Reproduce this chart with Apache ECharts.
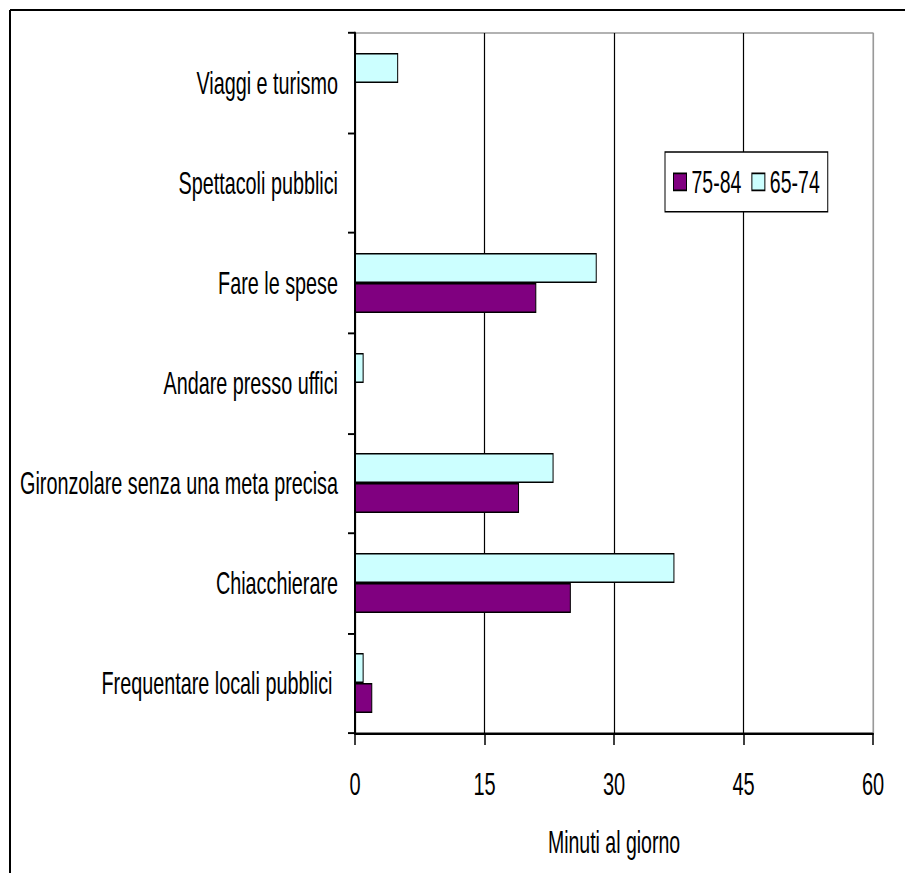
<!DOCTYPE html>
<html>
<head>
<meta charset="utf-8">
<script src="https://cdn.jsdelivr.net/npm/echarts@6/dist/echarts.min.js"></script>
<style>
  html, body { margin: 0; padding: 0; background: #fff; }
  #wrap { width: 905px; height: 873px; overflow: hidden; position: relative; }
  /* il grafico originale e' "stirato" in verticale: lo disegno basso e poi lo allungo */
  #main { width: 905px; height: 546px; transform: scaleY(1.5989); transform-origin: 0 0; }
</style>
</head>
<body>
<div id="wrap"><div id="main"></div></div>
<script>
// dati (dal basso verso l'alto, come l'asse delle categorie)
var categorie = [
  'Frequentare locali pubblici ',
  'Chiacchierare',
  'Gironzolare senza una meta precisa',
  'Andare presso uffici',
  'Fare le spese',
  'Spettacoli pubblici',
  'Viaggi e turismo'
];
var eta7584 = [2, 25, 19, 0, 21, 0, 0];
var eta6574 = [1, 37, 23, 1, 28, 0, 5];
var tickMinuti = [0, 15, 30, 45, 60];

var H = 546;
var S = 873 / H; // fattore di stiramento verticale
var font = 'Liberation Sans, Arial, sans-serif';

var mychart = echarts.init(document.getElementById('main'), null, { renderer: 'svg' });

var option = {
  animation: false,
  backgroundColor: '#fff',
  textStyle: { fontFamily: font },
  graphic: [
    { // cornice esterna
      type: 'line',
      shape: { x1: 10, y1: 10 / S, x2: 905, y2: 10 / S },
      style: { stroke: '#000', lineWidth: 1.3 }
    },
    {
      type: 'line',
      shape: { x1: 10, y1: 10 / S, x2: 10, y2: H },
      style: { stroke: '#000', lineWidth: 2 }
    }
  ],
  grid: {
    left: 355,
    right: 905 - 873,
    top: 33 / S,
    bottom: H - 733 / S,
    show: true,
    borderColor: '#999',
    borderWidth: 1,
    backgroundColor: '#fff'
  },
  legend: {
    data: ['75-84', '65-74'],
    left: 665,
    top: 152 / S,
    orient: 'horizontal',
    icon: 'rect',
    itemWidth: 13,
    itemHeight: 17 / S,
    itemGap: 10,
    padding: [(59 / S - 19.5) / 2, 8],
    backgroundColor: '#fff',
    borderColor: '#000',
    borderWidth: 1,
    borderRadius: 0,
    textStyle: { fontSize: 19.5, color: '#000', fontFamily: font },
    itemStyle: { borderColor: '#000', borderWidth: 1 }
  },
  xAxis: {
    type: 'value',
    min: tickMinuti[0],
    max: tickMinuti[tickMinuti.length - 1],
    interval: tickMinuti[1] - tickMinuti[0],
    name: 'Minuti al giorno',
    nameLocation: 'middle',
    nameGap: 58,
    nameTextStyle: { fontSize: 19.5, color: '#000', fontFamily: font },
    axisLine: { show: true, lineStyle: { color: '#000', width: 1.5 } },
    axisTick: { show: true, length: 12 / S, lineStyle: { color: '#000', width: 1.5 } },
    axisLabel: { fontSize: 20, color: '#000', margin: 22, fontFamily: font },
    splitLine: {
      show: true,
      lineStyle: { color: ['#000', '#000', '#000', '#000', '#999'], width: 1.2 }
    }
  },
  yAxis: {
    type: 'category',
    data: categorie,
    axisLine: { show: true, lineStyle: { color: '#000', width: 2 } },
    axisTick: { show: true, length: 7, lineStyle: { color: '#000', width: 1.2 } },
    axisLabel: { fontSize: 19.8, color: '#000', margin: 17, interval: 0, fontFamily: font },
    splitLine: { show: false }
  },
  series: [
    {
      name: '65-74',
      type: 'bar',
      data: eta6574,
      barGap: '0%',
      barCategoryGap: '40%',
      itemStyle: { color: '#CCFFFF', borderColor: '#000', borderWidth: 1 }
    },
    {
      name: '75-84',
      type: 'bar',
      data: eta7584,
      barGap: '0%',
      barCategoryGap: '40%',
      itemStyle: { color: '#800080', borderColor: '#000', borderWidth: 1 }
    }
  ]
};

mychart.setOption(option);
</script>
</body>
</html>
